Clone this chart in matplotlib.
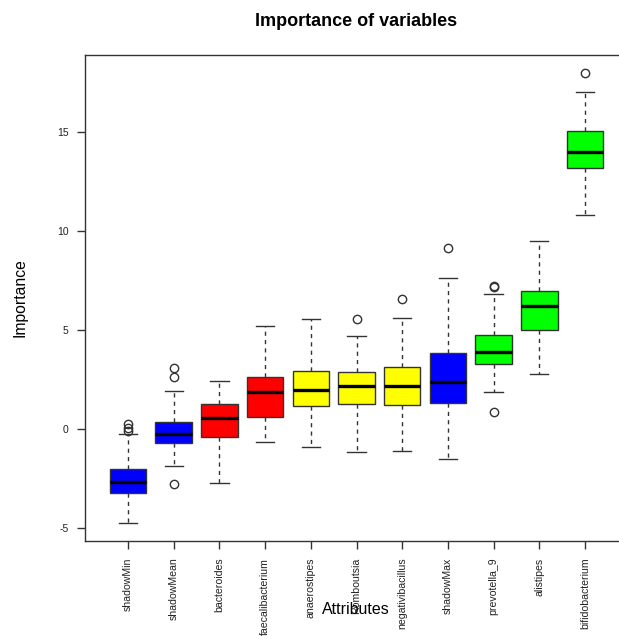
import matplotlib
matplotlib.use("Agg")
import matplotlib.pyplot as plt

# ----------------------------------------
# Data
# ----------------------------------------

attributes = ["shadowMin", "shadowMean", "bacteroides", "faecalibacterium",
              "anaerostipes", "Romboutsia", "negativibacillus", "shadowMax",
              "prevotella_9", "alistipes", "bifidobacterium"]

q1 = [-3.22, -0.69, -0.39, 0.62, 1.16, 1.25, 1.21, 1.30, 3.28, 4.98, 13.20]
median = [-2.66, -0.24, 0.56, 1.87, 1.95, 2.17, 2.19, 2.39, 3.91, 6.23, 13.99]
q3 = [-2.03, 0.37, 1.28, 2.63, 2.95, 2.90, 3.15, 3.84, 4.73, 6.97, 15.07]
whisker_low = [-4.76, -1.85, -2.73, -0.66, -0.93, -1.15, -1.09, -1.52, 1.85, 2.79, 10.82]
whisker_high = [-0.27, 1.92, 2.42, 5.20, 5.57, 4.70, 5.59, 7.64, 6.80, 9.49, 17.02]
outliers = [[-0.12, 0.05, 0.25], [-2.78, 2.62, 3.08], [], [], [], [5.56], [6.55],
            [9.16], [0.87, 7.15, 7.22], [], [17.96]]

box_colors = ["blue", "blue", "red", "red", "yellow", "yellow", "yellow",
              "blue", "lime", "lime", "lime"]

y_ticks = [-5, 0, 5, 10, 15]

# ----------------------------------------
# Plot
# ----------------------------------------

fig = plt.figure(figsize=(6.19, 6.39), dpi=100)
plt.rcParams["font.family"] = ["Liberation Sans", "DejaVu Sans"]

# the R device is wider than the picture, so the axes run off the right edge
ax = fig.add_axes([85 / 619, 1 - 541 / 639, 543 / 619, 486 / 639])

stats = []
for i, name in enumerate(attributes):
    stats.append({
        "label": name,
        "med": median[i],
        "q1": q1[i],
        "q3": q3[i],
        "whislo": whisker_low[i],
        "whishi": whisker_high[i],
        "fliers": outliers[i],
    })

edge = "#333333"
bp = ax.bxp(
    stats,
    positions=range(1, len(attributes) + 1),
    widths=0.8,
    patch_artist=True,
    boxprops=dict(edgecolor=edge, linewidth=1.0),
    medianprops=dict(color="black", linewidth=2.4, solid_capstyle="butt"),
    whiskerprops=dict(color=edge, linewidth=1.0, linestyle=(0, (3, 3))),
    capprops=dict(color=edge, linewidth=1.0),
    capwidths=0.4,
    flierprops=dict(marker="o", markersize=6, markerfacecolor="none",
                    markeredgecolor=edge, markeredgewidth=1.0),
)
for patch, c in zip(bp["boxes"], box_colors):
    patch.set_facecolor(c)

ax.set_xlim(0.06, 11.94)
ax.set_ylim(-5.66, 18.89)
ax.set_yticks(y_ticks)
ax.set_yticklabels([str(t) for t in y_ticks], fontsize=7.5, color="#222222")
ax.set_xticklabels(attributes, rotation=90, fontsize=7.6, color="#222222")

ax.tick_params(axis="both", direction="out", length=6, width=1.0, color=edge)
ax.tick_params(axis="y", pad=6)
ax.tick_params(axis="x", pad=6)

for s in ax.spines.values():
    s.set_color(edge)
    s.set_linewidth(1.0)

ax.set_title("Importance of variables", fontsize=13, fontweight="bold", pad=21)
ax.set_ylabel("Importance", fontsize=11.3, labelpad=21)
fig.text(356 / 619, 1 - 609 / 639, "Attributes", fontsize=11.5,
         ha="center", va="center")

fig.savefig("out.png", dpi=100)
